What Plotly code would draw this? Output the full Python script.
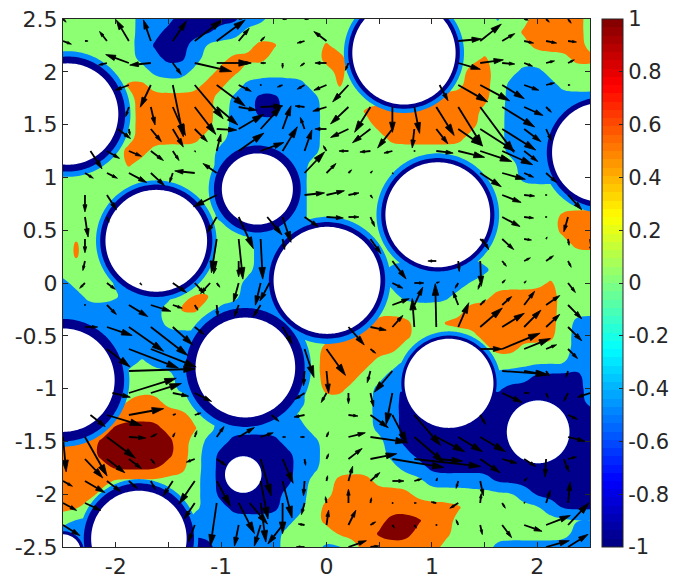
import re
import numpy as np
import plotly.graph_objects as go

# ---------- field bands, one run-length string per row, top row first
# n = -1, b = -0.5, g = 0, o = 0.5, r = 1
band_value = dict(n=-1.0, b=-0.5, g=0.0, o=0.5, r=1.0)
band_rows = [
"6g3b5n2b17g1b2g4o1g", "6g2b4n2b21g5o1g", "6g1b3n1b4g2o3g1o15g4o1g", "6g2b2n1b2g3o4g2o10g1o6g2o",
"7g3b2g2o7g1o9g2o2g2b4g", "5g2o4g2o1g5b2g1o9g2o1g4b3g", "6g6o1g2b2n3b9g4o1g7b", "6g6o1g2b2n3b3g9o2g7b",
"6g6o1g7b4g8o2g7b", "6g5o2g7b5g6o3g7b", "5g2o5g8b14g7b", "5g1o6g7b16g6b", "12g7b16g6b", "12g7b22g",
"12g7b22g", "12g7b19g3o", "14g5b19g3o", "1g1o13g4b20g2o", "1g1o13g4b22g", "15g4b6g2b5n1b8g",
"1b3g7b3g4b7g6b6g1o3g", "2b3g4b1g2o2g3b9g4b3g5o3g", "8b1g2o1g5b14g7o3g", "8b3g6b7g3o2g9o1g2b",
"19b2g6o5g6o1g2b", "15b5g6o7g2o4g2b", "6b1g8b5g4o2g1b12g2b", "5b4g6b5g3o2g2b6g3b4n1b",
"5b4g2b7g1b1g2o2g2b7n1b6n1b", "5b3o3g8b5g2b14n1b", "4b6o2g6b6g2b15n", "3g1o4r3o1g7b5g2b15n",
"3o6r1o1g2b4n3b5g1b15n", "3o6r1o1g1b6n2b5g2b14n", "4o4r2o1g1b6n2b6g2b13n", "4o7g1b6n1b2g3o4g5b8n",
"3o8g1b5n2b2g6o8g1b5n", "2o9g2b4n2b1g11o6g1b3n", "1g3b6g8b2g5o3r2o11g", "2b8g1n6b4g3o3r3o9g2b",
"4n6g2n5b3g2b1g6o4g8b",
]

# ---------- holes
hole_x = [0.735, -2.455, -0.656, -1.615, 1.056, 2.61, 0.005, -0.77, -2.5, -1.78, -0.79, 1.162, 2.008, -2.5]
hole_y = [2.18, 1.60, 0.89, 0.40, 0.646, 1.237, 0.025, -0.80, -0.92, -2.42, -1.814, -0.95, -1.41, -2.55]
hole_r = [0.49, 0.48, 0.337, 0.482, 0.497, 0.47, 0.507, 0.473, 0.49, 0.453, 0.173, 0.422, 0.297, 0.17]
hole_navy = [0.04, 0.065, 0.075, 0.05, 0.04, 0.05, 0.045, 0.09, 0.09, 0.07, 0, 0.03, 0, 0.03]
hole_blue = [0.08, 0.115, 0.125, 0.09, 0.085, 0.10, 0.095, 0.15, 0.14, 0.11, 0, 0.07, 0, 0.03]
blue_from = [0, 0, 0, 0, 0, 0, 0, 0, 0, 0, 0, 10, 0, 0]
blue_to = [360, 360, 360, 360, 360, 360, 360, 360, 360, 360, 360, 190, 360, 360]

# ---------- arrows: row -> (column, u, v)
arrow_rows = {
0: [(0,.03,-.03),(8,.05,.01),(10,.04,0),(11,.04,0),(21,.04,-.01),(22,.03,-.03),(23,.03,-.04)],
1: [(0,.08,-.03),(1,.03,0),(2,-.07,.09),(3,-.12,.2),(4,-.07,.2),(5,.13,.19),(6,.26,.2),(7,.27,.2),(8,.1,.12),(9,.04,.04),(11,-.07,-.02),(12,-.12,.09),(18,.22,.02),(19,.2,.16),(20,.12,.07),(21,.09,-.02),(22,.1,-.02),(23,.08,-.01)],
2: [(2,-.08,-.02),(3,-.22,.08),(4,-.2,-.02),(5,.08,-.11),(6,.35,-.08),(7,.32,0),(8,.12,0),(9,.05,0),(10,0,-.05),(11,-.04,-.03),(12,-.11,0),(13,-.03,-.07),(18,.21,-.06),(19,.22,.03),(20,.12,-.01),(21,.08,-.03),(22,.08,.02),(23,.06,.03)],
3: [(3,-.13,-.05),(4,-.1,-.21),(5,.1,-.49),(6,.27,-.32),(7,.27,-.2),(8,.12,-.06),(9,.01,0),(10,-.05,-.02),(11,-.07,-.04),(12,-.12,-.05),(13,-.15,-.16),(17.15,.08,-.15),(18,.28,-.16),(19,.28,-.15),(20,.21,-.13),(21,.14,-.05),(22,.08,.02),(23,.02,0)],
4: [(3,-.03,-.09),(4,.04,-.17),(5,.12,-.27),(6,.2,-.26),(7,.2,-.17),(8,.17,-.03),(9,.21,.01),(11,-.09,.01),(12,-.13,-.04),(13,-.17,-.16),(14,-.15,-.24),(15,0,-.24),(16,.05,-.25),(17,.17,-.27),(18,.23,-.37),(19,.32,-.43),(20,.31,-.19),(21,.18,-.08),(22,.05,-.05)],
5: [(2.5,.12,-.09),(3,.01,-.06),(4,.1,-.12),(5,.1,-.17),(6,.12,-.12),(7,.19,-.01),(8,.24,.14),(9,.2,.22),(10,.08,.22),(11,-.04,.11),(12,-.11,0),(13,-.17,-.08),(14,-.17,-.13),(15,-.14,-.18),(16,-.02,-.18),(17,.11,-.14),(18,.23,-.16),(19,.33,-.21),(20,.32,-.2),(21,.16,-.12),(22,.05,-.11)],
6: [(1.25,.11,-.17),(2,.12,-.07),(3,.12,-.05),(4,.12,-.09),(5,.06,-.09),(6,.01,-.01),(7,.04,.16),(8,.24,.17),(9,.22,.08),(10,.14,.23),(11,.07,.2),(12,-.03,.05),(13,-.09,0),(14,-.1,-.01),(15,-.08,-.02),(16,.01,0),(17,.16,-.02),(18,.25,-.06),(19,.3,-.1),(20,.29,-.13),(21,.13,-.1)],
7: [(1,.08,-.05),(2,.1,-.05),(3,.17,-.09),(4,.13,-.12),(5,-.03,-.09),(6,-.19,.02),(7,-.13,.09),(11,.19,.2),(12,.09,.09),(13,.03,.03),(14,.02,.02),(15,.01,-.01),(19,.2,-.13),(20,.22,-.06),(21,.09,-.04),(22,.1,-.09)],
8: [(1,0,-.16),(2,.09,-.14),(7,-.22,-.11),(11,.19,.02),(12,.17,.04),(13,.1,.02),(14,.02,-.03),(20,.18,-.07),(21,.1,-.01),(22,.01,0),(23,.13,-.14)],
9: [(1,.03,-.19),(2,.02,-.05),(7,-.09,-.15),(8,.14,-.3),(9.3,.14,-.17),(10,.08,-.24),(11,.13,-.09),(12,.16,-.01),(13,.1,0),(14,.04,-.09),(20,.17,-.09),(21,.09,-.01),(22,.01,0),(23,-.04,-.14)],
10: [(1,0,-.13),(7,-.05,-.32),(8,.04,-.38),(9,.02,-.38),(10,.02,-.1),(14,.1,-.14),(19,.05,-.05),(19.1,.06,-.1),(20,.11,-.1),(21,.07,-.01),(22,.01,.02),(23,.01,-.06),(24,.02,-.13)],
11: [(1,-.02,-.09),(7,-.03,-.12),(8,0,-.15),(15,.13,-.17),(17,-.08,0),(18,.01,-.1),(19,.01,-.24),(20,.04,-.05),(21,.06,.03),(22,.07,.05),(23,.03,-.06)],
12: [(1,-.05,-.05),(2,.08,-.06),(3.5,.02,-.02),(5,.13,-.09),(6,.09,-.1),(6.7,-.09,-.1),(7,.03,-.04),(8,-.05,-.18),(9,-.05,-.21),(9.4,-.09,-.17),(15,.1,-.05),(16,.09,0),(17,.03,.01),(18,-.03,-.05),(19,-.02,-.06),(20,.03,.03),(21,.02,.02),(23,.07,-.09)],
13: [(1,.01,0),(2,.09,-.09),(3,.18,-.11),(4,.19,-.06),(5,.09,-.03),(6,.03,-.05),(7,.01,-.11),(8,-.04,-.11),(9,-.07,-.11),(15,.16,.06),(16,.08,.17),(18,-.05,.13),(19,.05,.05),(20,.09,.08),(21,.1,.13),(22,.13,.09),(23,.13,-.13)],
14: [(1,.12,0),(2,.24,-.08),(3,.33,-.23),(4,.35,-.27),(5,.19,-.17),(6,.09,-.07),(10,.09,-.16),(13,.15,-.17),(14,.15,-.03),(15,.1,.11),(16,-.02,.27),(17,-.01,.41),(18,.1,.23),(19,.21,.18),(20,.21,.13),(21,.16,.16),(22,.13,.12),(23,.13,-.13)],
15: [(2,.22,-.17),(3,.47,-.18),(4,.43,-.17),(11,.09,-.27),(12,.18,-.25),(14,.05,-.04),(19,.21,0),(20,.36,.15),(21,.25,.1),(22,.1,.04),(23,.09,-.09)],
16: [(3,.63,.02),(11,-.01,-.14),(12,.02,-.21),(14,-.03,-.11),(15,-.17,-.2),(20,.43,-.03),(21,.22,-.04),(22,.03,-.05),(23,-.02,-.06)],
17: [(2.25,.17,-.04),(3,.45,.14),(4,.29,.09),(5,.15,-.03),(6,.16,-.08),(11,-.09,-.06),(12,-.05,-.09),(13,0,-.1),(14,.03,-.13),(15,-.06,-.3),(20,.19,-.09),(21,.05,0),(22,.02,-.05),(23,-.04,-.08),(24,-.12,-.04)],
18: [(1.25,.14,-.11),(2,.33,-.1),(3,.33,.06),(5,.03,.01),(6,.06,.02),(9.5,.07,-.06),(11,-.1,-.02),(13,.09,-.01),(14,.17,-.12),(15,.14,-.27),(16,.25,-.29),(19,.05,-.09),(23,.09,-.04)],
19: [(0,.03,-.33),(1,.21,-.37),(2,.27,-.2),(3,.16,-.01),(4,.06,.03),(5,.02,.04),(6,.02,.06),(7,.07,.1),(8,.15,.09),(9,.12,.04),(10,.03,0),(11,-.04,0),(12,.02,.05),(13,.16,.04),(14,.35,-.05),(16,.28,-.24),(17,.27,-.14),(18,.23,-.14),(19,.24,-.14),(23,.16,-.04)],
20: [(1,.17,-.18),(2,.17,-.13),(3,.12,-.09),(4,.04,-.05),(6,-.08,-.03),(7,.09,-.06),(9,.1,-.35),(10,.1,-.23),(11,.01,-.06),(12,.02,.05),(13,.13,.1),(14,.25,.05),(15,.49,-.08),(16,.63,-.07),(17,.25,-.02),(19,.19,-.13),(20,.14,-.04),(21,.11,-.07),(22,-.01,-.17),(22.8,.05,-.12),(23,.08,.02)],
21: [(0,.09,-.05),(1,.19,-.11),(2,.13,-.1),(3,.08,-.07),(4,.04,-.08),(5,-.09,-.14),(6,-.15,-.22),(7,.13,-.24),(9,.07,-.36),(10,.09,-.35),(11,-.01,-.14),(12,.01,.05),(13,.04,.14),(14,.09,.08),(15,.11,0),(16,.07,.02),(17,.01,.03),(18,-.02,-.07),(19,.03,-.14),(21,.03,.03)],
22: [(0,.13,-.07),(1,.15,-.07),(6,-.1,-.15),(7,-.06,-.41),(8,.15,-.29),(8.5,.17,-.2),(9,.05,-.37),(10,0,-.29),(11,-.03,-.11),(12,-.01,.06),(13,0,.13),(14,.01,.05),(15,.01,0),(16,.02,0),(17,-.05,.01),(18,-.08,-.05),(19,.01,.09),(20,.03,-.05),(21,.01,.01),(22,.04,.12),(23,.02,.2)],
23: [(0,.16,-.1),(6,-.06,-.16),(8,-.04,-.2),(9,-.06,-.2),(10,-.14,-.18),(11,-.06,.01),(12,.02,.14),(13,.07,.14),(14,.05,.03),(15,.02,-.03),(16,.02,-.03),(17,.01,0),(18,-.02,.05),(19,.02,-.09),(20,.09,-.12),(21,.17,-.06),(22,.23,.09),(23,.2,.21)],
24: [(11,-.08,0),(13,.17,.06),(14,.08,.01),(22,.22,.06),(23,.19,.12)],
}

tick_vals = [-2.5, -2, -1.5, -1, -0.5, 0, 0.5, 1, 1.5, 2, 2.5]
x_tick_text = ["", "-2", "", "-1", "", "0", "", "1", "", "2", ""]
y_tick_text = ["-2.5", "-2", "-1.5", "-1", "-0.5", "0", "0.5", "1", "1.5", "2", "2.5"]
bar_ticks = [-1, -0.8, -0.6, -0.4, -0.2, 0, 0.2, 0.4, 0.6, 0.8, 1]
bar_text = ["-1", "-0.8", "-0.6", "-0.4", "-0.2", "0", "0.2", "0.4", "0.6", "0.8", "1"]

NAVY, BLUE, GREEN, ORANGE, RED = "#00008c", "#0088ff", "#8cff73", "#ff7800", "#800000"
INK = "#262626"


def expand(row):
    cells = []
    for count, ch in re.findall(r"(\d+)([nbgor])", row):
        cells += [band_value[ch]] * int(count)
    return cells


def soften(a):
    # rounds off the stair-steps of the band grid, on the same grid nodes
    p = np.pad(a, 1, mode="edge")
    a = (p[:-2, 1:-1] + 4 * p[1:-1, 1:-1] + p[2:, 1:-1]) / 6
    p = np.pad(a, ((0, 0), (1, 1)), mode="edge")
    return (p[:, :-2] + 4 * p[:, 1:-1] + p[:, 2:]) / 6


z = soften(np.array([expand(r) for r in band_rows][::-1])).tolist()
grid = np.linspace(-2.5, 2.5, 41)


def jet(t):
    f = lambda a: float(np.clip(1.5 - abs(4 * t - a), 0, 1))
    return f"rgb({int(255*f(3))},{int(255*f(2))},{int(255*f(1))})"


jet_steps = []
for k in range(64):
    c = jet((k + 0.5) / 64)
    jet_steps += [[k / 64, c], [(k + 1) / 64, c]]


def disk_trace(radii, color, starts=None, ends=None):
    xs, ys = [], []
    for i, rad in enumerate(radii):
        a0 = 0 if starts is None else starts[i]
        a1 = 360 if ends is None else ends[i]
        t = np.radians(np.linspace(a0, a1, 181))
        px = list(hole_x[i] + rad * np.cos(t))
        py = list(hole_y[i] + rad * np.sin(t))
        if a1 - a0 < 360:
            px.append(hole_x[i])
            py.append(hole_y[i])
        xs += px + [px[0], None]
        ys += py + [py[0], None]
    return go.Scatter(x=xs, y=ys, mode="none", fill="toself", fillcolor=color,
                      hoverinfo="skip", showlegend=False)


fig = go.Figure()
fig.add_trace(go.Contour(
    x=grid, y=grid, z=z, zmin=-1, zmax=1, autocontour=False,
    contours=dict(start=-0.75, end=0.75, size=0.5, coloring="fill", showlines=False),
    colorscale=[[0, NAVY], [0.25, BLUE], [0.5, GREEN], [0.75, ORANGE], [1, RED]],
    line=dict(width=0, smoothing=1.3), showscale=False, hoverinfo="skip"))
fig.add_trace(disk_trace([r + b for r, b in zip(hole_r, hole_blue)], BLUE, blue_from, blue_to))
fig.add_trace(disk_trace([r + n for r, n in zip(hole_r, hole_navy)], NAVY))
fig.add_trace(disk_trace(hole_r, "white"))

sx, sy, hx, hy = [], [], [], []
for row, arrows in arrow_rows.items():
    for col, u, v in arrows:
        x0 = -2.5 + col * 5 / 24
        y0 = 2.5 - row * 5 / 24
        x1, y1 = x0 + u, y0 + v
        length = float(np.hypot(u, v))
        if length == 0:
            continue
        head = min(0.11, 0.36 * length + 0.01)
        ux, uy = u / length, v / length
        bx, by = x1 - head * ux, y1 - head * uy
        w = head * 0.28
        sx += [x0, bx, None]
        sy += [y0, by, None]
        hx += [x1, bx - w * uy, bx + w * uy, x1, None]
        hy += [y1, by + w * ux, by - w * ux, y1, None]
fig.add_trace(go.Scatter(x=sx, y=sy, mode="lines", line=dict(color="black", width=1.8),
                         hoverinfo="skip", showlegend=False))
fig.add_trace(go.Scatter(x=hx, y=hy, mode="lines", fill="toself", fillcolor="black",
                         line=dict(color="black", width=0.8), hoverinfo="skip", showlegend=False))

fig.add_trace(go.Scatter(
    x=[None, None], y=[None, None], mode="markers", hoverinfo="skip", showlegend=False,
    marker=dict(color=[-1, 1], cmin=-1, cmax=1, colorscale=jet_steps, showscale=True,
                colorbar=dict(x=1.0228, xanchor="left", xpad=0, y=0.5, yanchor="middle", ypad=0,
                              lenmode="pixels", len=528, thicknessmode="pixels", thickness=21,
                              tickmode="array", tickvals=bar_ticks, ticktext=bar_text,
                              ticks="inside", ticklen=4, tickcolor=INK, outlinecolor=INK,
                              outlinewidth=1, tickfont=dict(family="DejaVu Sans", size=21, color=INK)))))

axis = dict(range=[-2.5, 2.5], tickmode="array", tickvals=tick_vals, ticks="inside", ticklen=5,
            tickcolor=INK, tickwidth=1, showgrid=False, zeroline=False, mirror="ticks",
            showline=True, linecolor=INK, linewidth=1,
            tickfont=dict(family="DejaVu Sans", size=22, color=INK))
fig.update_xaxes(ticktext=x_tick_text, **axis)
fig.update_yaxes(ticktext=y_tick_text, **axis)
fig.update_layout(width=678, height=585, autosize=False, paper_bgcolor="white", plot_bgcolor="white",
                  margin=dict(l=63, r=88, t=19, b=38, autoexpand=False), showlegend=False)
fig.write_html("out.html", config=dict(displayModeBar=False), post_script="document.body.style.margin='0';")
